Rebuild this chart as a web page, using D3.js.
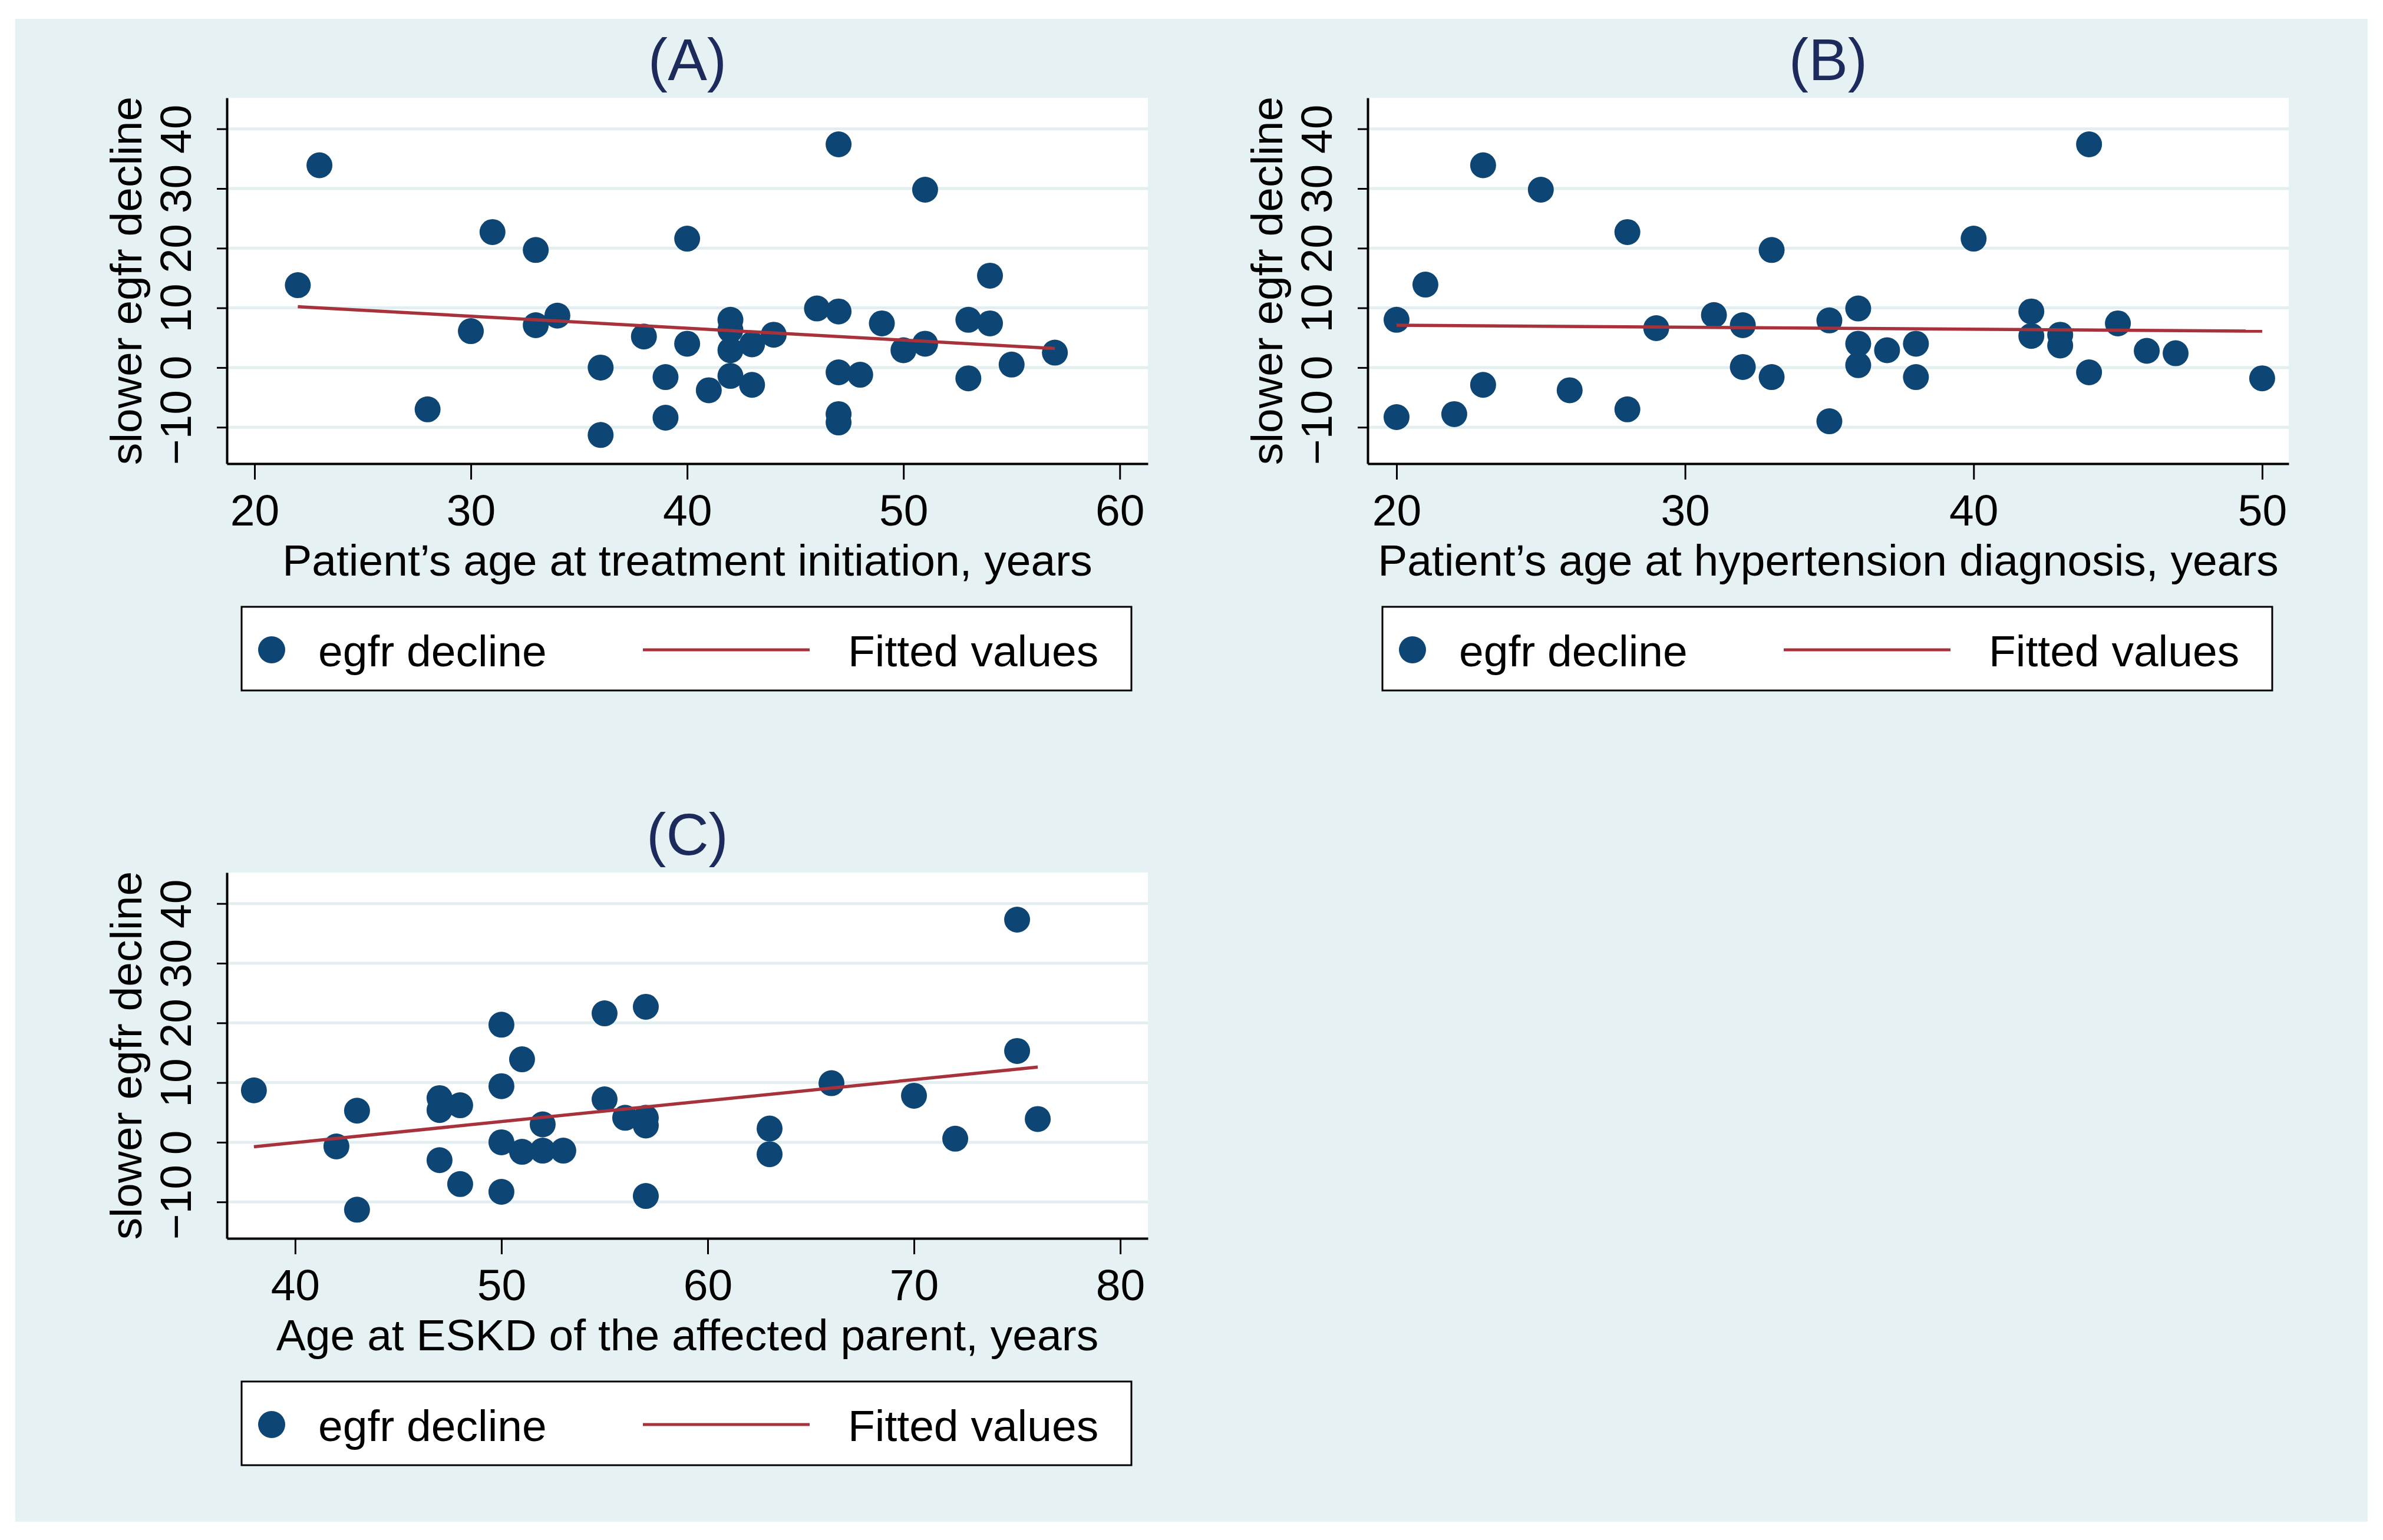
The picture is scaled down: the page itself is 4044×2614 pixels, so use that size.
<!DOCTYPE html>
<html>
<head>
<meta charset="utf-8">
<script src="https://cdn.jsdelivr.net/npm/d3@7"></script>
<style>
  html, body { margin: 0; padding: 0; background: #ffffff; }
  svg { display: block; }
  text { font-family: "Liberation Sans", Arial, Helvetica, sans-serif; }
</style>
</head>
<body>
<div id="chart"></div>
<script>
// Panel A: age at treatment initiation
var treat_age = [22, 23, 28, 30, 31, 33, 33, 34, 36, 36, 38, 39, 39, 40, 40, 41,
  42, 42, 42, 42, 43, 43, 44, 46, 47, 47, 47, 47, 47, 48, 49, 50, 51, 51, 53, 53, 54, 54, 55, 57];
var treat_egfr = [13.8, 33.9, -7.0, 6.1, 22.7, 19.7, 7.1, 8.7, 0.0, -11.3, 5.2, -1.6, -8.4, 21.6, 4.0, -3.8,
  8.0, 6.3, 2.9, -1.4, 3.9, -2.9, 5.5, 9.9, 9.4, 37.4, -0.8, -7.8, -9.2, -1.2, 7.4, 2.9, 29.8, 4.0, 8.0, -1.8, 15.4, 7.4, 0.5, 2.5];
var treat_fit_x = [22, 57];
var treat_fit_y = [10.2, 3.2];

// Panel B: age at hypertension diagnosis
var htn_age = [20, 20, 21, 22, 23, 23, 25, 26, 28, 28, 29, 31, 32, 32, 33, 33, 35,
  35, 36, 36, 36, 37, 38, 38, 40, 42, 42, 43, 43, 44, 44, 45, 46, 47, 50];
var htn_egfr = [8.0, -8.3, 13.9, -7.8, 33.9, -2.9, 29.8, -3.8, 22.7, -7.0, 6.6, 8.8, 7.1, 0.1, 19.7, -1.6, 7.9,
  -9.0, 9.9, 4.0, 0.4, 2.9, 4.0, -1.6, 21.6, 9.4, 5.3, 5.5, 3.7, 37.4, -0.8, 7.4, 2.8, 2.4, -1.8];
var htn_fit_x = [20, 50];
var htn_fit_y = [7.1, 6.1];

// Panel C: age at ESKD of the affected parent
var eskd_age = [38, 42, 43, 43, 47, 47, 47, 48, 48, 50, 50, 50, 50, 51, 51, 52, 52,
  53, 55, 55, 56, 57, 57, 57, 57, 63, 63, 66, 70, 72, 75, 75, 76];
var eskd_egfr = [8.7, -0.7, 5.3, -11.3, 7.4, 5.4, -3.0, 6.2, -7.0, 19.7, 9.4, 0.0, -8.3, 13.9, -1.6, 3.0, -1.4,
  -1.4, 21.6, 7.2, 4.1, 22.7, 4.1, 2.8, -9.0, 2.3, -2.0, 9.9, 7.8, 0.6, 37.3, 15.3, 3.9];
var eskd_fit_x = [38, 76];
var eskd_fit_y = [-0.75, 12.6];

var y_ticks = [-10, 0, 10, 20, 30, 40];
var treat_x_ticks = [20, 30, 40, 50, 60];
var htn_x_ticks = [20, 30, 40, 50];
var eskd_x_ticks = [40, 50, 60, 70, 80];

var panel_titles = ["(A)", "(B)", "(C)"];
var x_titles = ["Patient’s age at treatment initiation, years",
  "Patient’s age at hypertension diagnosis, years",
  "Age at ESKD of the affected parent, years"];
var y_title = "slower egfr decline";
var legend_labels = ["egfr decline", "Fitted values"];

var create_visualization = function() {
  // Change these to fine-tune graph
  var width = 4044;
  var height = 2614;
  var plot_left = 385;
  var plot_right = 1948;
  var plot_top = 166;
  var plot_bottom = 787;
  var font_size = 75;
  var marker_r = 22;
  var bg_color = "#e6f1f3";
  var grid_color = "#e3eef0";
  var marker_color = "#0d4674";
  var fit_color = "#a8323b";
  var title_color = "#1d2b5c";
  //////////////////////////////////

  var panels = [
    { dx: 0, dy: 0, xs: treat_age, ys: treat_egfr, fx: treat_fit_x, fy: treat_fit_y,
      x_domain: [18.72, 61.3], x_ticks: treat_x_ticks },
    { dx: 1936, dy: 0, xs: htn_age, ys: htn_egfr, fx: htn_fit_x, fy: htn_fit_y,
      x_domain: [19.0, 50.92], x_ticks: htn_x_ticks },
    { dx: 0, dy: 1315, xs: eskd_age, ys: eskd_egfr, fx: eskd_fit_x, fy: eskd_fit_y,
      x_domain: [36.69, 81.34], x_ticks: eskd_x_ticks }
  ];

  var svg = d3.select("#chart").append("svg")
      .attr("width", width)
      .attr("height", height);

  svg.append("rect")
      .attr("width", width)
      .attr("height", height)
      .attr("fill", "#ffffff");

  svg.append("rect")
      .attr("x", 26)
      .attr("y", 32)
      .attr("width", 3992)
      .attr("height", 2551)
      .attr("fill", bg_color);

  var y_scale = d3.scaleLinear()
      .domain([-16.1, 45.2])
      .range([plot_bottom, plot_top]);

  var plot_panel = function(p, i) {
    var g = svg.append("g")
        .attr("transform", "translate(" + p.dx + "," + p.dy + ")");

    var x_scale = d3.scaleLinear()
        .domain(p.x_domain)
        .range([plot_left, plot_right]);

    // Plot region
    g.append("rect")
        .attr("x", plot_left)
        .attr("y", plot_top)
        .attr("width", plot_right - plot_left)
        .attr("height", plot_bottom - plot_top)
        .attr("fill", "#ffffff");

    // Gridlines
    g.selectAll(".grid")
        .data(y_ticks)
      .enter().append("line")
        .attr("x1", plot_left)
        .attr("x2", plot_right)
        .attr("y1", function(d) { return y_scale(d); })
        .attr("y2", function(d) { return y_scale(d); })
        .attr("stroke", grid_color)
        .attr("stroke-width", 5);

    // Scatter points
    g.selectAll(".pt")
        .data(d3.range(p.xs.length))
      .enter().append("circle")
        .attr("cx", function(j) { return x_scale(p.xs[j]); })
        .attr("cy", function(j) { return y_scale(p.ys[j]); })
        .attr("r", marker_r)
        .attr("fill", marker_color);

    // Fitted line
    var line = d3.line()
        .x(function(j) { return x_scale(p.fx[j]); })
        .y(function(j) { return y_scale(p.fy[j]); });

    g.append("path")
        .datum(d3.range(p.fx.length))
        .attr("d", line)
        .attr("fill", "none")
        .attr("stroke", fit_color)
        .attr("stroke-width", 5.5);

    // Axes
    var y_axis = g.append("g")
        .attr("transform", "translate(" + plot_left + ",0)")
        .call(d3.axisLeft(y_scale).tickValues(y_ticks).tickSize(17).tickSizeOuter(0));

    y_axis.selectAll("text")
        .attr("x", null)
        .attr("dy", null)
        .attr("text-anchor", "middle")
        .attr("transform", "translate(-61,0) rotate(-90)");

    var x_axis = g.append("g")
        .attr("transform", "translate(0," + plot_bottom + ")")
        .call(d3.axisBottom(x_scale).tickValues(p.x_ticks).tickSize(27).tickPadding(25).tickSizeOuter(0));

    [y_axis, x_axis].forEach(function(a) {
      a.select(".domain").attr("stroke", "#000").attr("stroke-width", 4);
      a.selectAll(".tick line").attr("stroke", "#000").attr("stroke-width", 3);
      a.selectAll("text")
          .attr("fill", "#000")
          .attr("font-size", font_size)
          .attr("font-family", "'Liberation Sans', Arial, Helvetica, sans-serif");
    });

    var cx = (plot_left + plot_right) / 2;

    // Titles
    g.append("text")
        .attr("x", cx)
        .attr("y", 136)
        .attr("text-anchor", "middle")
        .attr("font-size", 100)
        .attr("fill", title_color)
        .text(panel_titles[i]);

    g.append("text")
        .attr("x", cx)
        .attr("y", 977)
        .attr("text-anchor", "middle")
        .attr("font-size", font_size)
        .attr("fill", "#000")
        .text(x_titles[i]);

    g.append("text")
        .attr("transform", "translate(" + (plot_left - 145) + "," + ((plot_top + plot_bottom) / 2) + ") rotate(-90)")
        .attr("text-anchor", "middle")
        .attr("font-size", font_size)
        .attr("fill", "#000")
        .text(y_title);

    // Legend
    var lx = plot_left + 25;
    var lw = (plot_right - 28) - lx;
    g.append("rect")
        .attr("x", lx)
        .attr("y", 1030)
        .attr("width", lw)
        .attr("height", 142)
        .attr("fill", "#ffffff")
        .attr("stroke", "#000")
        .attr("stroke-width", 3);

    g.append("circle")
        .attr("cx", lx + 51)
        .attr("cy", 1103)
        .attr("r", 23)
        .attr("fill", marker_color);

    g.append("text")
        .attr("x", lx + 130)
        .attr("y", 1131)
        .attr("font-size", font_size)
        .attr("fill", "#000")
        .text(legend_labels[0]);

    g.append("line")
        .attr("x1", lx + 681)
        .attr("x2", lx + 964)
        .attr("y1", 1103)
        .attr("y2", 1103)
        .attr("stroke", fit_color)
        .attr("stroke-width", 5);

    g.append("text")
        .attr("x", lx + 1029)
        .attr("y", 1131)
        .attr("font-size", font_size)
        .attr("fill", "#000")
        .text(legend_labels[1]);
  };

  panels.forEach(plot_panel);
};

create_visualization();
</script>
</body>
</html>
